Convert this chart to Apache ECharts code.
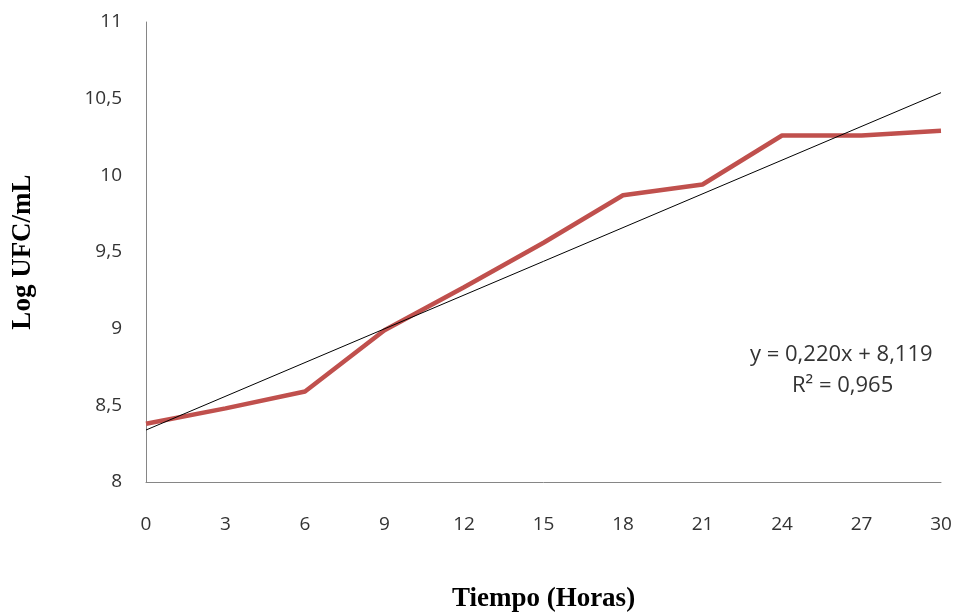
<!DOCTYPE html>
<html>
<head>
<meta charset="utf-8">
<script src="https://cdn.jsdelivr.net/npm/echarts@6/dist/echarts.min.js"></script>
<style>html,body{margin:0;padding:0;background:#fff}#c{width:957px;height:612px}</style>
</head>
<body>
<div id="c"></div>
<script>
const categories = ['0','3','6','9','12','15','18','21','24','27','30'];
const logUFC = [8.38, 8.48, 8.59, 8.99, 9.27, 9.56, 9.87, 9.94, 10.26, 10.26, 10.29];
const trendSlope = 0.220;
const trendIntercept = 8.119;
const r2 = '0,965';
const trendPoints = [[0, 8.339], [10, 10.539]];

const chart = echarts.init(document.getElementById('c'));
const fmt = v => String(v).replace('.', ',');
chart.setOption({
  animation: false,
  grid: { left: 146, right: 16, top: 22, bottom: 130, outerBoundsMode: 'none', containLabel: false },
  xAxis: {
    type: 'category', data: categories, boundaryGap: false,
    axisLine: { lineStyle: { color: '#868686', width: 1 } },
    axisTick: { show: false },
    axisLabel: { color: '#333', fontFamily: 'Open Sans', fontSize: 19, margin: 33 },
    name: 'Tiempo (Horas)', nameLocation: 'middle', nameGap: 104,
    nameTextStyle: { fontFamily: 'Liberation Serif', fontWeight: 'bold', fontSize: 27, color: '#000' }
  },
  yAxis: {
    type: 'value', min: 8, max: 11, interval: 0.5,
    axisLine: { show: true, lineStyle: { color: '#868686', width: 1 } },
    axisTick: { show: false },
    splitLine: { show: false },
    axisLabel: { color: '#333', fontFamily: 'Open Sans', fontSize: 19, margin: 24, formatter: fmt },
    name: 'Log UFC/mL', nameLocation: 'middle', nameGap: 109, nameRotate: 90,
    nameTextStyle: { fontFamily: 'Liberation Serif', fontWeight: 'bold', fontSize: 27, color: '#000' }
  },
  series: [
    { type: 'line', data: logUFC, symbol: 'none', lineStyle: { color: '#C0504D', width: 4.5 }, z: 3 },
    { type: 'line', data: trendPoints, symbol: 'none', lineStyle: { color: '#000', width: 1 }, z: 4 }
  ],
  graphic: [
    { type: 'text', left: 750, top: 344, style: { text: 'y = ' + fmt(trendSlope.toFixed(3)) + 'x + ' + fmt(trendIntercept.toFixed(3)), font: '22px "Open Sans"', fill: '#333' } },
    { type: 'text', left: 792, top: 375, style: { text: 'R² = ' + r2, font: '22px "Open Sans"', fill: '#333' } }
  ]
});
</script>
</body>
</html>
